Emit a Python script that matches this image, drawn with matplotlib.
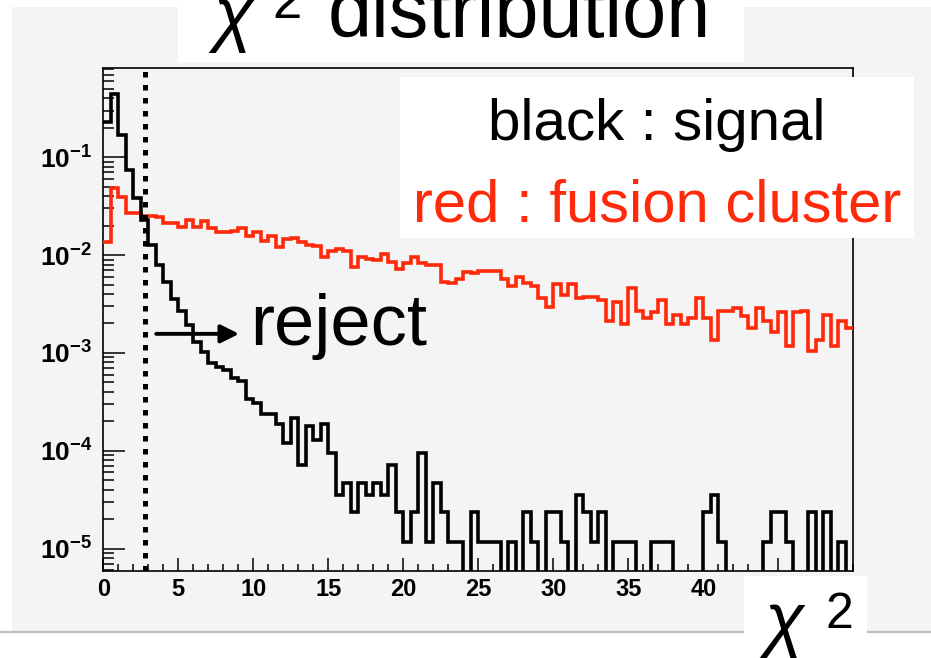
import numpy as np
import matplotlib
matplotlib.use("Agg")
import matplotlib.pyplot as plt
from matplotlib.patches import Rectangle
from matplotlib.lines import Line2D
from matplotlib.ticker import FixedLocator, MultipleLocator, LogLocator, NullFormatter, FixedFormatter

# ---------------- data ----------------
x_min, x_max, n_bins = 0.0, 50.0, 100
chi2_cut = 2.8

signal = [
    0.231, 0.44, 0.169, 0.074, 0.0381, 0.0229, 0.0127, 0.0079, 0.00536, 0.00355,
    2.65e-3, 1.94e-3, 1.28e-3, 1.03e-3, 7.86e-4, 7.26e-4, 6.72e-4, 5.53e-4, 5.19e-4, 3.40e-4,
    3.07e-4, 2.37e-4, 2.37e-4, 1.89e-4, 1.20e-4, 2.16e-4, 7.08e-5, 1.80e-4, 1.29e-4, 1.89e-4,
    9.44e-5, 3.54e-5, 4.72e-5, 2.36e-5, 4.72e-5, 3.54e-5, 4.72e-5, 3.54e-5, 7.08e-5, 2.36e-5,
    1.18e-5, 2.36e-5, 9.44e-5, 1.18e-5, 4.72e-5, 2.36e-5, 1.18e-5, 1.18e-5, 0.0, 2.36e-5,
    1.18e-5, 1.18e-5, 1.18e-5, 0.0, 1.18e-5, 0.0, 2.36e-5, 1.18e-5, 0.0, 2.36e-5,
    2.36e-5, 1.18e-5, 0.0, 3.54e-5, 2.36e-5, 1.18e-5, 2.36e-5, 0.0, 1.18e-5, 1.18e-5,
    1.18e-5, 0.0, 0.0, 1.18e-5, 1.18e-5, 1.18e-5, 0.0, 0.0, 0.0, 0.0,
    2.36e-5, 3.54e-5, 1.18e-5, 0.0, 0.0, 0.0, 0.0, 0.0, 1.18e-5, 2.36e-5,
    2.36e-5, 1.18e-5, 0.0, 0.0, 2.36e-5, 0.0, 2.36e-5, 0.0, 1.18e-5, 0.0,
]

fusion = [
    0.01374, 0.0489, 0.0390, 0.0268, 0.0268, 0.0253, 0.0253, 0.0247, 0.0212, 0.0212,
    0.01955, 0.0229, 0.01955, 0.0225, 0.01883, 0.01714, 0.01738, 0.0178, 0.01883, 0.01582,
    0.01738, 0.01397, 0.01571, 0.01221, 0.01454, 0.01489, 0.01374, 0.01271, 0.01242, 0.00966,
    0.01104, 0.01165, 0.01112, 0.00763, 0.00966, 0.00908, 0.00893, 0.01029, 0.00858, 0.00718,
    0.00838, 0.00952, 0.00827, 0.00794, 0.00794, 0.00529, 0.00516, 0.00571, 0.00679, 0.00663,
    0.0069, 0.0069, 0.0069, 0.00567, 0.00488, 0.00603, 0.00516, 0.00485, 0.00363, 0.00298,
    0.00504, 0.00392, 0.00504, 0.00363, 0.00377, 0.00377, 0.00346, 0.00211, 0.00335, 0.00197,
    0.00459, 0.00271, 0.00227, 0.00259, 0.00349, 0.00197, 0.00245, 0.00197, 0.00227, 0.00363,
    0.00227, 0.00134, 0.00271, 0.00271, 0.00291, 0.00239, 0.00179, 0.00291, 0.00213, 0.00165,
    0.00259, 0.00118, 0.00259, 0.00271, 0.00105, 0.00136, 0.00245, 0.00118, 0.00213, 0.00179,
]

x_major = [0, 5, 10, 15, 20, 25, 30, 35, 40, 45]
x_labels = ["0", "5", "10", "15", "20", "25", "30", "35", "40", ""]
y_major = [1e-5, 1e-4, 1e-3, 1e-2, 1e-1]
y_labels = [r"$\mathbf{10^{-5}}$", r"$\mathbf{10^{-4}}$", r"$\mathbf{10^{-3}}$",
            r"$\mathbf{10^{-2}}$", r"$\mathbf{10^{-1}}$"]
y_lim = (5.9e-6, 0.826)

title_main = "distribution"
legend_signal = "black : signal"
legend_fusion = "red : fusion cluster"
reject_text = "reject"

# ---------------- style ----------------
RED = "#ff2a0a"
GRAY = "#f4f4f4"
W, H = 931, 658
plt.rcParams["font.family"] = ["Liberation Sans", "DejaVu Sans"]
plt.rcParams["mathtext.fontset"] = "custom"
plt.rcParams["mathtext.rm"] = "Liberation Sans"
plt.rcParams["mathtext.bf"] = "Liberation Sans:bold"
plt.rcParams["mathtext.it"] = "Liberation Sans:italic"


def fx(x):
    return x / W


def fy(y):
    return 1 - y / H


fig = plt.figure(figsize=(W / 100, H / 100), dpi=100)
fig.patch.set_facecolor("white")

# canvas gray panel
fig.patches.append(Rectangle((fx(12), fy(632)), fx(W - 12), (632 - 7) / H,
                             transform=fig.transFigure, facecolor=GRAY,
                             edgecolor="none", zorder=-5))
fig.lines.append(Line2D([0, 1], [fy(632), fy(632)], transform=fig.transFigure,
                        color="#bdbdbd", lw=1.6, zorder=-4))

ax = fig.add_axes([fx(103.3), fy(571), fx(853.3 - 103.3), (571 - 67.5) / H])
ax.set_facecolor(GRAY)
ax.set_yscale("log", nonpositive="clip")
edges = np.linspace(x_min, x_max, n_bins + 1)
ax.stairs(fusion, edges, baseline=None, color=RED, lw=2.6, zorder=3)
ax.stairs(signal, edges, baseline=None, color="black", lw=2.6, zorder=4)
ax.axvline(chi2_cut, color="black", lw=3.6, linestyle=(0, (1.1, 1.5)), zorder=5)

ax.set_xlim(x_min, x_max)
ax.set_ylim(*y_lim)

ax.xaxis.set_major_locator(FixedLocator(x_major))
ax.xaxis.set_major_formatter(FixedFormatter(x_labels))
ax.xaxis.set_minor_locator(MultipleLocator(1))
ax.yaxis.set_major_locator(FixedLocator(y_major))
ax.yaxis.set_major_formatter(FixedFormatter(y_labels))
ax.yaxis.set_minor_locator(LogLocator(base=10, subs=np.arange(2, 10)))
ax.yaxis.set_minor_formatter(NullFormatter())

ax.tick_params(axis="x", which="major", direction="in", length=9.5, width=1.1,
               pad=5, labelsize=17, top=False)
ax.tick_params(axis="x", which="minor", direction="in", length=5, width=1.1, top=False)
ax.tick_params(axis="y", which="major", direction="in", length=15.5, width=1.1,
               pad=8, labelsize=19, right=False)
ax.tick_params(axis="y", which="minor", direction="in", length=7.8, width=1.1, right=False)
for lab in ax.get_xticklabels():
    lab.set_fontweight("bold")
for s in ax.spines.values():
    s.set_linewidth(1.2)

# arrow + reject text
ax.annotate("", xy=(0.181, 0.471), xytext=(0.0706, 0.471), xycoords="axes fraction",
            arrowprops=dict(arrowstyle="-|>,head_length=1.1,head_width=0.55",
                            color="black", lw=2.8, shrinkA=0, shrinkB=0), zorder=6)
fig.text(fx(250), fy(345), reject_text, fontsize=52, ha="left", va="baseline", zorder=6)

# legend box
fig.patches.append(Rectangle((fx(400), fy(238)), fx(914 - 400), (238 - 77) / H,
                             transform=fig.transFigure, facecolor="white",
                             edgecolor="none", zorder=8))
fig.text(fx(657), fy(140), legend_signal, fontsize=42, ha="center", va="baseline",
         color="black", zorder=9)
fig.text(fx(657), fy(222), legend_fusion, fontsize=43, ha="center", va="baseline",
         color=RED, zorder=9)

# title box
fig.patches.append(Rectangle((fx(178), fy(62)), fx(744 - 178), 62 / H,
                             transform=fig.transFigure, facecolor="white",
                             edgecolor="none", zorder=8))
fig.text(fx(213), fy(38), "\u03c7", fontsize=52, style="italic", ha="left",
         va="baseline", zorder=9)
fig.text(fx(272), fy(18), "2", fontsize=38, ha="left", va="baseline", zorder=9)
fig.text(fx(328), fy(37), title_main, fontsize=57, ha="left", va="baseline", zorder=9)

# x-axis label box
fig.patches.append(Rectangle((fx(744), 0), fx(867 - 744), (658 - 576) / H,
                             transform=fig.transFigure, facecolor="white",
                             edgecolor="none", zorder=8))
fig.text(fx(764), fy(643), "\u03c7", fontsize=52, style="italic", ha="left",
         va="baseline", zorder=9)
fig.text(fx(826), fy(628), "2", fontsize=36, ha="left", va="baseline", zorder=9)

fig.savefig("out.png", dpi=100, facecolor="white")
